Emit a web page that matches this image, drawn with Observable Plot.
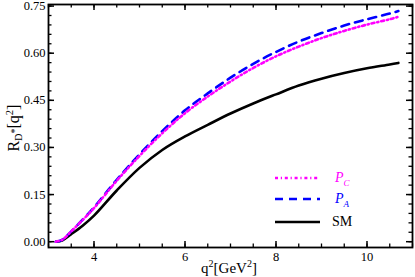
<!DOCTYPE html>
<html><head><meta charset="utf-8">
<script src="https://cdn.jsdelivr.net/npm/d3@7"></script>
<script src="https://cdn.jsdelivr.net/npm/@observablehq/plot@0.6"></script>
<style>
body{margin:0;background:#fff;}
#wrap{position:relative;width:415px;height:277px;font-family:"Liberation Serif","DejaVu Serif",serif;}
#legend{position:absolute;left:275px;top:168px;font-size:14px;}
.row{position:absolute;left:0;height:20px;width:110px;}
.row svg{position:absolute;left:0;top:0;}
.row span{position:absolute;left:58px;top:0;line-height:20px;white-space:nowrap;}
</style></head>
<body><div id="wrap"><div id="legend"></div></div>
<script>
const q2 = [3.16,3.3,3.5,3.75,4.0,4.5,5.0,5.5,6.0,6.5,7.0,7.5,8.0,8.5,9.0,9.5,10.0,10.5,10.69];
const SM = [0,0.004,0.024,0.051,0.083,0.163,0.235,0.292,0.335,0.372,0.408,0.44,0.469,0.497,0.519,0.537,0.552,0.564,0.569];
const PA = [0,0.006,0.033,0.07,0.109,0.197,0.278,0.352,0.418,0.472,0.522,0.566,0.604,0.637,0.664,0.688,0.708,0.726,0.734];
const PC = [0,0.006,0.033,0.069,0.107,0.194,0.273,0.345,0.409,0.462,0.51,0.553,0.59,0.621,0.648,0.671,0.691,0.708,0.716];
const xMajor = [4,6,8,10];
const yMajor = [0,0.15,0.30,0.45,0.60,0.75];
const xMinor = d3.range(3,11.01,0.5);
const yMinor = d3.range(0,0.751,0.03);

const dashPA = "8,6";
const dashPC = "3,2.8,1.2,2.8";
const series = [
  {name:"P_A", vals:PA, color:"#0000ff", dash:dashPA},
  {name:"P_C", vals:PC, color:"#ff00ff", dash:dashPC},
];
const mk = v => q2.map((x,i)=>({x, y:v[i]}));
const W=415,H=277,mL=48,mR=3,mT=4,mB=30;
const iw=W-mL-mR, ih=H-mT-mB;
const plot = Plot.plot({
  width:W,height:H,marginLeft:mL,marginRight:mR,marginTop:mT,marginBottom:mB,
  style:{fontFamily:"Liberation Serif, serif",fontSize:"12.5px",color:"#000",background:"#fff"},
  x:{domain:[3,11]},
  y:{domain:[-0.0185,0.755]},
  marks:[
    Plot.axisX(xMajor,{tickSize:0,tickPadding:5,label:null,fontSize:12.5}),
    Plot.axisY(yMajor,{tickSize:0,tickPadding:3,label:null,tickFormat:d3.format(".2f"),fontSize:12.5}),
    Plot.tickX(xMinor,{x:d=>d,insetTop:ih-3.5,stroke:"#000",strokeWidth:1.3}),
    Plot.tickX(xMinor,{x:d=>d,insetBottom:ih-3.5,stroke:"#000",strokeWidth:1.3}),
    Plot.tickX(xMajor,{x:d=>d,insetTop:ih-6,stroke:"#000",strokeWidth:1.5}),
    Plot.tickX(xMajor,{x:d=>d,insetBottom:ih-6,stroke:"#000",strokeWidth:1.5}),
    Plot.tickY(yMinor,{y:d=>d,insetRight:iw-3.5,stroke:"#000",strokeWidth:1.3}),
    Plot.tickY(yMinor,{y:d=>d,insetLeft:iw-3.5,stroke:"#000",strokeWidth:1.3}),
    Plot.tickY(yMajor,{y:d=>d,insetRight:iw-6,stroke:"#000",strokeWidth:1.5}),
    Plot.tickY(yMajor,{y:d=>d,insetLeft:iw-6,stroke:"#000",strokeWidth:1.5}),
    Plot.line(mk(SM),{x:"x",y:"y",stroke:"#000",strokeWidth:2.6,curve:"catmull-rom"}),
    ...series.map(s=>Plot.line(mk(s.vals),{x:"x",y:"y",stroke:s.color,strokeWidth:2.6,strokeDasharray:s.dash,curve:"catmull-rom"})),
    Plot.frame({stroke:"#000",strokeWidth:1.8})
  ]
});
const wrap=document.getElementById("wrap");
wrap.insertBefore(plot, wrap.firstChild);
const svg=d3.select(plot);
// axis titles
svg.append("text").attr("x",229).attr("y",273).attr("text-anchor","middle")
  .attr("font-family","Liberation Serif, serif").attr("font-size",15).attr("fill","#000")
  .call(t=>{t.append("tspan").text("q");t.append("tspan").attr("font-size",10).attr("dy",-6).text("2");
    t.append("tspan").attr("dy",6).text("[GeV");t.append("tspan").attr("font-size",10).attr("dy",-6).text("2");
    t.append("tspan").attr("dy",6).text("]");});
svg.append("text").attr("transform","translate(19,128) rotate(-90)").attr("text-anchor","middle")
  .attr("font-family","Liberation Serif, serif").attr("font-size",16).attr("fill","#000")
  .call(t=>{t.append("tspan").text("R");t.append("tspan").attr("font-size",10).attr("dy",3).text("D");
    t.append("tspan").attr("font-size",10).attr("dy",-4).text("*");
    t.append("tspan").attr("dy",1).text("[q");t.append("tspan").attr("font-size",10.5).attr("dy",-6).text("2");
    t.append("tspan").attr("dy",6).text("]");});
// legend
const leg=document.getElementById("legend");
const items=[
  {label:'<i>P</i><sub style="font-size:9px;font-style:italic">C</sub>',color:"#ff00ff",dash:dashPC,top:0},
  {label:'<i>P</i><sub style="font-size:9px;font-style:italic">A</sub>',color:"#0000ff",dash:dashPA,top:21},
  {label:'SM',color:"#000",dash:null,top:44},
];
items.forEach(it=>{
  const r=document.createElement("div");r.className="row";r.style.top=it.top+"px";
  r.innerHTML=`<svg width="50" height="20"><line x1="0" x2="45" y1="10" y2="10" stroke="${it.color}" stroke-width="2.6" ${it.dash?`stroke-dasharray="${it.dash}"`:""}/></svg><span style="color:${it.color};left:${it.dash?60:57}px">${it.label}</span>`;
  leg.appendChild(r);
});
</script></body></html>
